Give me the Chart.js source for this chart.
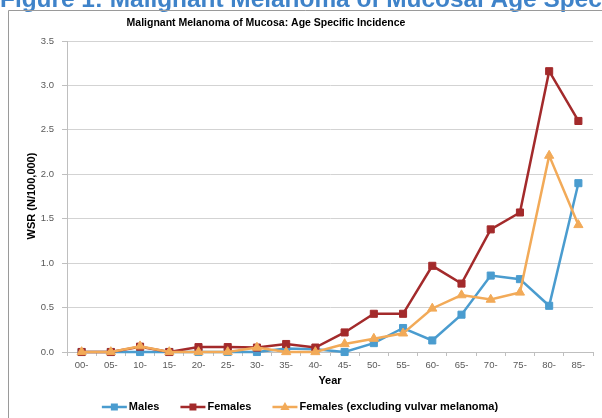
<!DOCTYPE html>
<html>
<head>
<meta charset="utf-8">
<script src="https://cdn.jsdelivr.net/npm/chart.js@4/dist/chart.umd.min.js"></script>
<style>
  html, body { margin: 0; padding: 0; background: #fff; overflow: hidden; }
  canvas { display: block; }
</style>
</head>
<body>
<canvas id="c" width="602" height="418"></canvas>
<script>
// Age groups (5-year bands)
const categories = ['00-', '05-', '10-', '15-', '20-', '25-', '30-', '35-', '40-',
                    '45-', '50-', '55-', '60-', '65-', '70-', '75-', '80-', '85-'];

// World standardised rate per 100,000
const males = [0, 0, 0, 0, 0, 0, 0, 0.04, 0.03, 0, 0.10, 0.27, 0.13, 0.42, 0.86, 0.82, 0.52, 1.90];
const females = [0, 0, 0.06, 0, 0.055, 0.055, 0.05, 0.09, 0.05, 0.22, 0.43, 0.43, 0.97, 0.77, 1.38, 1.57, 3.16, 2.60];
const femalesExVulvar = [0, 0, 0.065, 0, 0, 0, 0.05, 0, 0, 0.09, 0.15, 0.21, 0.49, 0.64, 0.59, 0.67, 2.21, 1.43];

const seriesNames = ['Males', 'Females', 'Females (excluding vulvar melanoma)'];
const yTickValues = [0, 0.5, 1.0, 1.5, 2.0, 2.5, 3.0, 3.5];

const heading = 'Figure 1: Malignant Melanoma of Mucosal Age Specific Incidence';
const chartTitle = 'Malignant Melanoma of Mucosa: Age Specific Incidence';
const xTitle = 'Year';
const yTitle = 'WSR (N/100,000)';

const FONT = "'Liberation Sans', Arial, sans-serif";
const COLORS = ['#4a9ccf', '#a32a2b', '#f2aa58'];

function drawMarker(ctx, style, x, y, color) {
  ctx.fillStyle = color;
  ctx.beginPath();
  if (style === 'triangle') {
    ctx.moveTo(x, y - 5);
    ctx.lineTo(x + 4.6, y + 3);
    ctx.lineTo(x - 4.6, y + 3);
    ctx.closePath();
  } else {
    ctx.rect(x - 3.5, y - 3.5, 7, 7);
  }
  ctx.fill();
}

const decor = {
  id: 'decor',
  beforeDraw(chart) {
    const ctx = chart.ctx;
    ctx.save();
    ctx.fillStyle = '#fff';
    ctx.fillRect(0, 0, chart.width, chart.height);
    // document heading running off the top edge
    ctx.fillStyle = '#3f83c9';
    ctx.font = 'bold 24.4px ' + FONT;
    ctx.textAlign = 'left';
    ctx.textBaseline = 'alphabetic';
    ctx.fillText(heading, 0, 7);
    // chart frame
    ctx.strokeStyle = '#9a9a9a';
    ctx.lineWidth = 1;
    ctx.beginPath();
    ctx.moveTo(8.5, chart.height);
    ctx.lineTo(8.5, 10.5);
    ctx.lineTo(chart.width, 10.5);
    ctx.stroke();
    ctx.restore();
  },
  afterDraw(chart) {
    const ctx = chart.ctx;
    const area = chart.chartArea;
    ctx.save();
    ctx.fillStyle = '#000';
    ctx.textAlign = 'center';
    ctx.textBaseline = 'middle';
    ctx.font = 'bold 10.5px ' + FONT;
    ctx.fillText(chartTitle, 266, 23);
    ctx.font = 'bold 11px ' + FONT;
    ctx.fillText(xTitle, (area.left + area.right) / 2, 381);
    ctx.save();
    ctx.translate(32, 196);
    ctx.rotate(-Math.PI / 2);
    ctx.fillText(yTitle, 0, 0);
    ctx.restore();

    // legend: line swatch with marker, then label
    ctx.font = 'bold 11px ' + FONT;
    ctx.textAlign = 'left';
    const sw = 25, gapText = 2, gapItem = 21, ly = 407;
    const items = chart.data.datasets.map(ds => ({
      label: ds.label, color: ds.borderColor, style: ds.pointStyle,
      w: sw + gapText + ctx.measureText(ds.label).width
    }));
    const total = items.reduce((s, it) => s + it.w, 0) + gapItem * (items.length - 1);
    let x = 300 - total / 2;
    items.forEach(it => {
      ctx.strokeStyle = it.color;
      ctx.lineWidth = 2.5;
      ctx.beginPath();
      ctx.moveTo(x, ly);
      ctx.lineTo(x + sw, ly);
      ctx.stroke();
      drawMarker(ctx, it.style, x + sw / 2, ly, it.color);
      ctx.fillStyle = '#000';
      ctx.fillText(it.label, x + sw + gapText, ly);
      x += it.w + gapItem;
    });
    ctx.restore();
  }
};

function series(label, data, i, style, radius, order) {
  return {
    label, data,
    borderColor: COLORS[i],
    backgroundColor: COLORS[i],
    pointBackgroundColor: COLORS[i],
    pointBorderColor: COLORS[i],
    borderWidth: 2.5,
    pointStyle: style,
    pointRadius: radius,
    pointBorderWidth: 1,
    tension: 0,
    clip: false,
    order
  };
}

new Chart(document.getElementById('c'), {
  type: 'line',
  data: {
    labels: categories,
    datasets: [
      series(seriesNames[0], males, 0, 'rect', 5, 3),
      series(seriesNames[1], females, 1, 'rect', 5, 2),
      series(seriesNames[2], femalesExVulvar, 2, 'triangle', 5.3, 1)
    ]
  },
  options: {
    responsive: false,
    devicePixelRatio: 1,
    animation: false,
    events: [],
    layout: { padding: { left: 0, right: 9, top: 41, bottom: 0 } },
    plugins: { legend: { display: false }, title: { display: false }, tooltip: { enabled: false } },
    scales: {
      x: {
        type: 'category',
        offset: true,
        grid: { offset: true, drawOnChartArea: false, tickLength: 4, color: '#bfbfbf' },
        border: { color: '#bfbfbf' },
        ticks: { color: '#595959', font: { family: FONT, size: 9.5 }, padding: 4, maxRotation: 0, autoSkip: false },
        afterFit(scale) { scale.height = 66; }
      },
      y: {
        min: 0, max: 3.5,
        afterBuildTicks(scale) { scale.ticks = yTickValues.map(v => ({ value: v })); },
        grid: { color: '#d3d3d3', tickLength: 5, tickColor: '#bfbfbf' },
        border: { color: '#bfbfbf' },
        ticks: {
          color: '#595959', font: { family: FONT, size: 9.5 }, padding: 8,
          callback: v => Number(v).toFixed(1)
        },
        afterFit(scale) { scale.width = 67; }
      }
    }
  },
  plugins: [decor]
});
</script>
</body>
</html>
